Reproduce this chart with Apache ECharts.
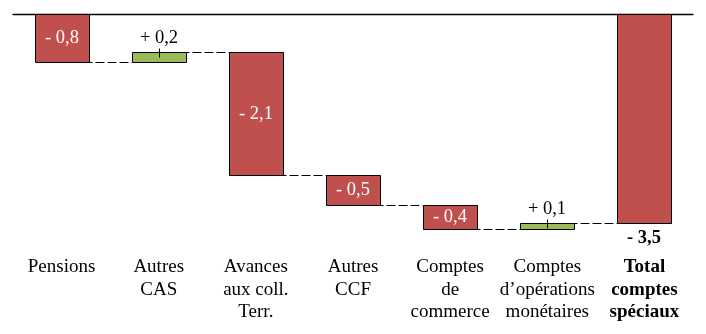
<!DOCTYPE html>
<html>
<head>
<meta charset="utf-8">
<script src="https://cdn.jsdelivr.net/npm/echarts@6/dist/echarts.min.js"></script>
<style>html,body{margin:0;padding:0;background:#fff;}#c{width:706px;height:334px;}</style>
</head>
<body>
<div id="c"></div>
<script>
const categories = ['Pensions', 'Autres\nCAS', 'Avances\naux coll.\nTerr.', 'Autres\nCCF', 'Comptes\nde\ncommerce', 'Comptes\nd’opérations\nmonétaires', 'Total\ncomptes\nspéciaux'];
const deltas = [-0.8, 0.17, -2.05, -0.5, -0.4, 0.1];
const total = -3.48;
const valueLabels = ['- 0,8', '+ 0,2', '- 2,1', '- 0,5', '- 0,4', '+ 0,1', '- 3,5'];

const FONT = '"Liberation Serif", "DejaVu Serif", serif';
const RED = '#C0504D', GREEN = '#9BBB59';

const rows = [];
let level = 0;
deltas.forEach((d, i) => {
  rows.push([i, level, level + d]);
  level += d;
});
rows.push([deltas.length, 0, total]);

const chart = echarts.init(document.getElementById('c'), null, {renderer: 'canvas'});
const BAR_RATIO = 0.556;
const snap = v => Math.round(v) + 0.5;

function renderItem(params, api) {
  const i = api.value(0), s = api.value(1), e = api.value(2);
  const p1 = api.coord([i, s]), p2 = api.coord([i, e]);
  const bw = Math.round(api.size([1, 0])[0] * BAR_RATIO);
  const cx = Math.round(p1[0]);
  const x = cx - bw / 2;
  const top = snap(Math.min(p1[1], p2[1]));
  const bot = snap(Math.max(p1[1], p2[1]));
  const isTotal = i === categories.length - 1;
  const pos = e > s && !isTotal;
  const children = [];
  children.push({
    type: 'rect',
    shape: {x: snap(x), y: top, width: bw, height: bot - top},
    style: {fill: pos ? GREEN : RED, stroke: '#000', lineWidth: 1}
  });
  if (pos) {
    children.push({
      type: 'line',
      shape: {x1: cx + 0.5, y1: top - 4, x2: cx + 0.5, y2: top + 5},
      style: {stroke: '#000', lineWidth: 1}
    });
    children.push({
      type: 'text',
      style: {text: valueLabels[i], x: cx, y: top - 5, align: 'center', verticalAlign: 'bottom',
        fill: '#000', font: '18.5px ' + FONT}
    });
  } else if (isTotal) {
    children.push({
      type: 'text',
      style: {text: valueLabels[i], x: cx, y: bot + 5, align: 'center', verticalAlign: 'top',
        fill: '#000', font: 'bold 18.5px ' + FONT}
    });
  } else {
    children.push({
      type: 'text',
      style: {text: valueLabels[i], x: cx, y: (top + bot) / 2, align: 'center', verticalAlign: 'middle',
        fill: '#fff', font: '18.5px ' + FONT}
    });
  }
  if (!isTotal) {
    const nx = Math.round(api.coord([i + 1, e])[0]);
    const ly = snap(p2[1]);
    children.push({
      type: 'line',
      shape: {x1: snap(x) + bw, y1: ly, x2: nx - bw / 2, y2: ly},
      style: {stroke: '#000', lineWidth: 1, lineDash: [9, 3], lineDashOffset: 6}
    });
  }
  return {type: 'group', children: children};
}

chart.setOption({
  animation: false,
  grid: {left: 13, right: 13, top: 14, bottom: 80, containLabel: false},
  xAxis: [{
    type: 'category', data: categories, position: 'bottom',
    axisLine: {show: false}, axisTick: {show: false},
    axisLabel: {
      interval: 0, margin: 2, color: '#000', fontFamily: FONT, fontSize: 19, lineHeight: 22.5,
      formatter: function (v, idx) {
        if (idx === categories.length - 1) {
          return v.split('\n').map(t => '{b|' + t + '}').join('\n');
        }
        return v;
      },
      rich: {b: {fontWeight: 'bold', fontFamily: FONT, fontSize: 19, lineHeight: 22.5, color: '#000'}}
    }
  }, {
    type: 'category', data: categories, position: 'top',
    axisLine: {show: true, onZero: false, lineStyle: {color: '#000', width: 1.3}},
    axisTick: {show: false}, axisLabel: {show: false}
  }],
  yAxis: {type: 'value', min: -4, max: 0, show: false, splitLine: {show: false}},
  series: [{
    type: 'custom',
    renderItem: renderItem,
    data: rows,
    encode: {x: 0, y: [1, 2]},
    clip: false,
    z: 1
  }]
});
</script>
</body>
</html>
